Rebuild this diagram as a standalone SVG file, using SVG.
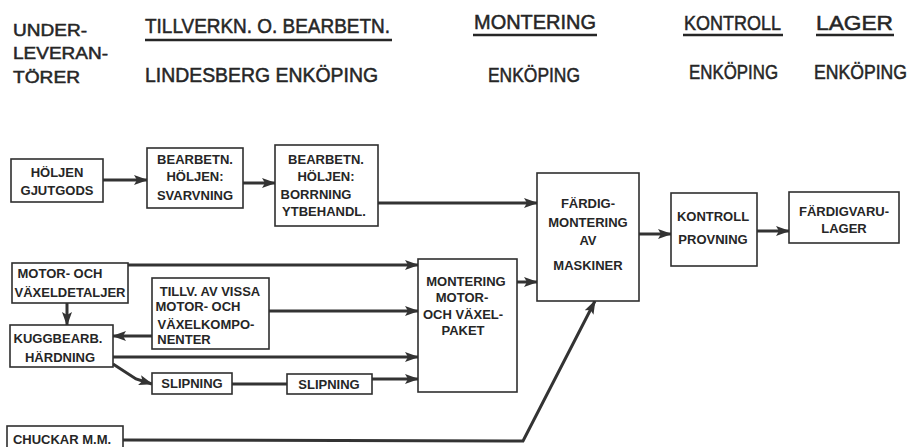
<svg xmlns="http://www.w3.org/2000/svg" width="923" height="447" viewBox="0 0 923 447">
<style>
  .hd { font-family: "Liberation Sans", Arial, sans-serif; font-size: 20px; fill: #262626; stroke: #262626; stroke-width: 0.5; }
  .sm { font-size: 17px; }
  .bx rect { fill: #ffffff; stroke: #2f2f2f; stroke-width: 1.6; }
  .bx text { font-family: "Liberation Sans", Arial, sans-serif; font-size: 13px; font-weight: bold; fill: #262626; text-anchor: middle; }
  .ul { stroke: #262626; stroke-width: 2.5; }
  .cn line, .cn polyline { fill: none; stroke: #333333; stroke-width: 3; }
  .ar { marker-end: url(#ah); }
</style>
<defs>
  <marker id="ah" markerUnits="userSpaceOnUse" markerWidth="14" markerHeight="10" refX="13" refY="5" orient="auto">
    <path d="M0,0 L14,5 L0,10 L3,5 z" fill="#333333"/>
  </marker>
</defs>
<rect width="923" height="447" fill="#ffffff"/>

<g id="headers">
  <text class="hd sm" x="13" y="36" textLength="74" lengthAdjust="spacingAndGlyphs">UNDER-</text>
  <text class="hd sm" x="13" y="59" textLength="95" lengthAdjust="spacingAndGlyphs">LEVERAN-</text>
  <text class="hd sm" x="13" y="83" textLength="67" lengthAdjust="spacingAndGlyphs">TÖRER</text>
  <text class="hd" x="145" y="33" textLength="245" lengthAdjust="spacingAndGlyphs">TILLVERKN. O. BEARBETN.</text>
  <line class="ul" x1="145" y1="40" x2="392" y2="40"/>
  <text class="hd" x="145" y="82" textLength="233" lengthAdjust="spacingAndGlyphs">LINDESBERG  ENKÖPING</text>
  <text class="hd" x="474" y="29" textLength="122" lengthAdjust="spacingAndGlyphs">MONTERING</text>
  <line class="ul" x1="473" y1="35" x2="597" y2="35"/>
  <text class="hd" x="488" y="82" textLength="92" lengthAdjust="spacingAndGlyphs">ENKÖPING</text>
  <text class="hd" x="684" y="30" textLength="97" lengthAdjust="spacingAndGlyphs">KONTROLL</text>
  <line class="ul" x1="683" y1="35" x2="783" y2="35"/>
  <text class="hd" x="816" y="30" textLength="77" lengthAdjust="spacingAndGlyphs">LAGER</text>
  <line class="ul" x1="816" y1="35" x2="894" y2="35"/>
  <text class="hd" x="689" y="79" textLength="89" lengthAdjust="spacingAndGlyphs">ENKÖPING</text>
  <text class="hd" x="814" y="79" textLength="93" lengthAdjust="spacingAndGlyphs">ENKÖPING</text>
</g>

<g class="cn" id="connectors">
  <line class="ar" x1="103" y1="180" x2="147" y2="180"/>
  <line class="ar" x1="243" y1="183" x2="275" y2="183"/>
  <line class="ar" x1="378" y1="203" x2="537" y2="203"/>
  <line class="ar" x1="639" y1="234" x2="671" y2="234"/>
  <line class="ar" x1="757" y1="231" x2="789" y2="231"/>
  <line class="ar" x1="128" y1="265" x2="418" y2="265"/>
  <line class="ar" x1="67" y1="303" x2="67" y2="325"/>
  <line class="ar" x1="152" y1="336" x2="113" y2="336"/>
  <line class="ar" x1="269" y1="311" x2="418" y2="311"/>
  <line class="ar" x1="113" y1="357" x2="418" y2="357"/>
  <polyline class="ar" points="113,364 136,379 152,384"/>
  <line x1="232" y1="384" x2="287" y2="384"/>
  <line class="ar" x1="372" y1="379" x2="418" y2="379"/>
  <line class="ar" x1="517" y1="282" x2="537" y2="282"/>
  <polyline class="ar" points="123,440 523,441 595,301"/>
</g>

<g class="bx" id="n-holjen-gjutgods">
  <rect x="11" y="159" width="92" height="43"/>
  <text x="57" y="177">HÖLJEN</text>
  <text x="57" y="195">GJUTGODS</text>
</g>
<g class="bx" id="n-svarvning">
  <rect x="147" y="148" width="96" height="60"/>
  <text x="195" y="164">BEARBETN.</text>
  <text x="195" y="181">HÖLJEN:</text>
  <text x="195" y="200">SVARVNING</text>
</g>
<g class="bx" id="n-borrning">
  <rect x="275" y="145" width="103" height="81"/>
  <text x="326" y="164">BEARBETN.</text>
  <text x="326" y="181">HÖLJEN:</text>
  <text x="316" y="199">BORRNING</text>
  <text x="324" y="216">YTBEHANDL.</text>
</g>
<g class="bx" id="n-fardigmontering">
  <rect x="537" y="173" width="102" height="128"/>
  <text x="588" y="208">FÄRDIG-</text>
  <text x="588" y="227">MONTERING</text>
  <text x="588" y="245">AV</text>
  <text x="588" y="270">MASKINER</text>
</g>
<g class="bx" id="n-kontroll">
  <rect x="671" y="193" width="86" height="73"/>
  <text x="713" y="221">KONTROLL</text>
  <text x="713" y="244">PROVNING</text>
</g>
<g class="bx" id="n-lager">
  <rect x="789" y="192" width="110" height="51"/>
  <text x="844" y="216">FÄRDIGVARU-</text>
  <text x="844" y="233">LAGER</text>
</g>
<g class="bx" id="n-motor-vaxeldetaljer">
  <rect x="12" y="263" width="116" height="40"/>
  <text x="60" y="278">MOTOR-  OCH</text>
  <text x="70" y="297">VÄXELDETALJER</text>
</g>
<g class="bx" id="n-tillv">
  <rect x="152" y="278" width="117" height="71"/>
  <text x="210" y="296">TILLV. AV VISSA</text>
  <text x="198" y="311">MOTOR- OCH</text>
  <text x="206" y="329">VÄXELKOMPO-</text>
  <text x="184" y="344">NENTER</text>
</g>
<g class="bx" id="n-kuggbearb">
  <rect x="10" y="325" width="103" height="42"/>
  <text x="58" y="343">KUGGBEARB.</text>
  <text x="60" y="362">HÄRDNING</text>
</g>
<g class="bx" id="n-montering-motor">
  <rect x="418" y="259" width="99" height="133"/>
  <text x="466" y="286">MONTERING</text>
  <text x="462" y="302">MOTOR-</text>
  <text x="463" y="319">OCH VÄXEL-</text>
  <text x="463" y="335">PAKET</text>
</g>
<g class="bx" id="n-slipning1">
  <rect x="152" y="373" width="80" height="21"/>
  <text x="192" y="388">SLIPNING</text>
</g>
<g class="bx" id="n-slipning2">
  <rect x="287" y="374" width="85" height="20"/>
  <text x="329" y="389">SLIPNING</text>
</g>
<g class="bx" id="n-chuckar">
  <rect x="7" y="426" width="116" height="26"/>
  <text x="62" y="444">CHUCKAR M.M.</text>
</g>
</svg>
